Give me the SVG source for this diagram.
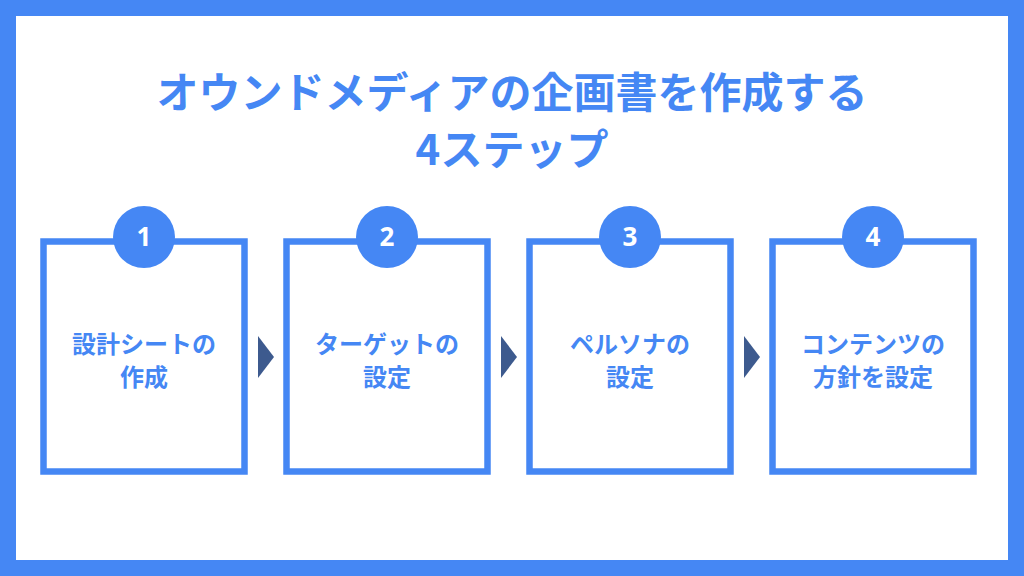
<svg xmlns="http://www.w3.org/2000/svg" width="1024" height="576" viewBox="0 0 1024 576">
<style>
.title{font-family:"Noto Sans CJK JP","Noto Sans",sans-serif;font-weight:700;font-size:42px;fill:#4587f4;text-anchor:middle}
.box{fill:#fff;stroke:#4587f4;stroke-width:6.5}
.num{fill:#4587f4}
.numt{font-family:"Noto Sans","Noto Sans CJK JP",sans-serif;font-weight:700;font-size:26px;fill:#fff;text-anchor:middle}
.lbl{font-family:"Noto Sans CJK JP",sans-serif;font-weight:700;font-size:24px;fill:#4587f4;text-anchor:middle}
.arr{fill:#3d5a8e}
</style>
<rect x="0" y="0" width="1024" height="576" fill="#4587f4"/>
<rect x="16" y="16" width="992" height="544" fill="#fff"/>
<g id="title">
<text class="title" x="512" y="108">オウンドメディアの企画書を作成する</text>
<text class="title" x="512" y="165">4ステップ</text>
</g>
<g id="connectors">
<polygon class="arr" points="258,336 274,357 258,378"/>
<polygon class="arr" points="501,336 517,357 501,378"/>
<polygon class="arr" points="744,336 760,357 744,378"/>
</g>
<g id="step1">
<rect class="box" x="43.5" y="241.5" width="201" height="230"/>
<circle class="num" cx="144" cy="237" r="31"/>
<text class="numt" x="144" y="246">1</text>
<text class="lbl" x="144" y="353">設計シートの</text>
<text class="lbl" x="144" y="386">作成</text>
</g>
<g id="step2">
<rect class="box" x="286.5" y="241.5" width="201" height="230"/>
<circle class="num" cx="387" cy="237" r="31"/>
<text class="numt" x="387" y="246">2</text>
<text class="lbl" x="387" y="353">ターゲットの</text>
<text class="lbl" x="387" y="386">設定</text>
</g>
<g id="step3">
<rect class="box" x="529.5" y="241.5" width="201" height="230"/>
<circle class="num" cx="630" cy="237" r="31"/>
<text class="numt" x="630" y="246">3</text>
<text class="lbl" x="630" y="353">ペルソナの</text>
<text class="lbl" x="630" y="386">設定</text>
</g>
<g id="step4">
<rect class="box" x="772.5" y="241.5" width="201" height="230"/>
<circle class="num" cx="873" cy="237" r="31"/>
<text class="numt" x="873" y="246">4</text>
<text class="lbl" x="873" y="353">コンテンツの</text>
<text class="lbl" x="873" y="386">方針を設定</text>
</g>
</svg>
